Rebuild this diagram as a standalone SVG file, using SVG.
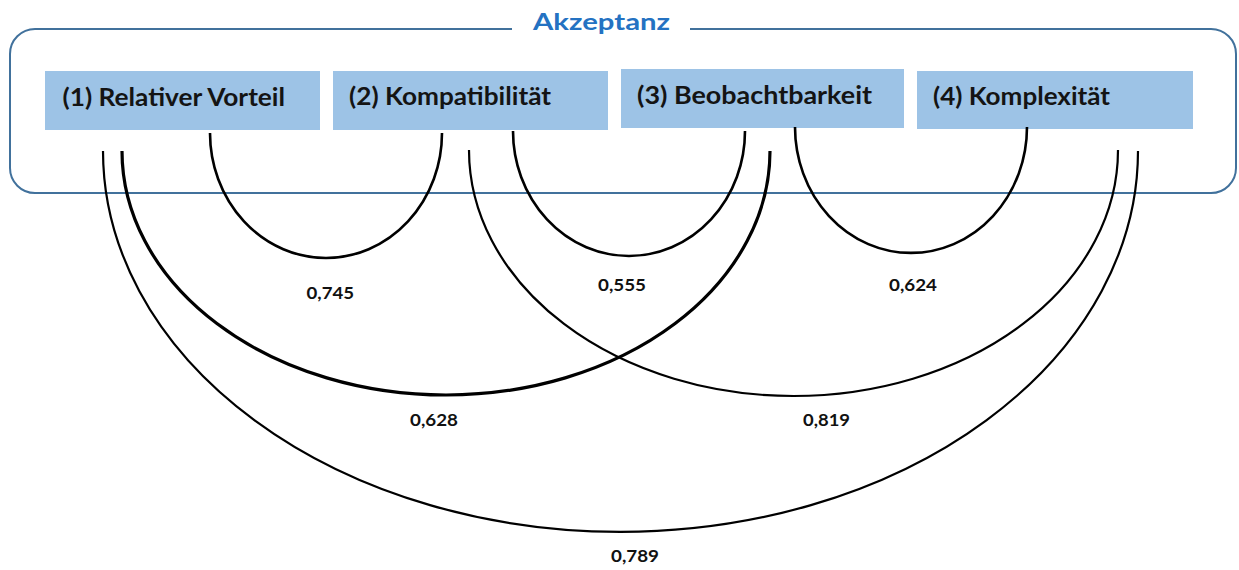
<svg xmlns="http://www.w3.org/2000/svg" width="1239" height="570" viewBox="0 0 1239 570">
<style>
.box{fill:#9dc3e6}
.lbl{font-family:Lato,"Liberation Sans",sans-serif;font-weight:bold;font-size:24px;fill:#141414}
.val{font-family:Lato,"Liberation Sans",sans-serif;font-weight:bold;font-size:17px;fill:#111}
.arc{fill:none;stroke:#000;stroke-width:2.2}
.sm{stroke-width:2.6}
.title{font-family:Lato,"Liberation Sans",sans-serif;font-weight:bold;font-size:23.5px;fill:#2472c2}
</style>
<rect width="1239" height="570" fill="#fff"/>
<g id="container">
<path d="M512 29 H35 A25 25 0 0 0 10 54 V168 A25 25 0 0 0 35 193 H1211 A25 25 0 0 0 1236 168 V54 A25 25 0 0 0 1211 29 H690" fill="none" stroke="#41719c" stroke-width="2"/>
<text class="title" x="533" y="29.5" textLength="137" lengthAdjust="spacingAndGlyphs">Akzeptanz</text>
</g>
<g id="n1"><rect class="box" x="45" y="71" width="275" height="59"/><text class="lbl" x="62.5" y="105.5" textLength="222.5" lengthAdjust="spacingAndGlyphs">(1) Relativer Vorteil</text></g>
<g id="n2"><rect class="box" x="333" y="71" width="275" height="59"/><text class="lbl" x="349" y="105" textLength="202" lengthAdjust="spacingAndGlyphs">(2) Kompatibilität</text></g>
<g id="n3"><rect class="box" x="621" y="69" width="283" height="59"/><text class="lbl" x="637" y="103.5" textLength="235" lengthAdjust="spacingAndGlyphs">(3) Beobachtbarkeit</text></g>
<g id="n4"><rect class="box" x="917" y="71" width="276" height="58"/><text class="lbl" x="933" y="104.5" textLength="177" lengthAdjust="spacingAndGlyphs">(4) Komplexität</text></g>
<g id="connectors">
<path class="arc sm" d="M210 133 A116 125 0 0 0 442 133"/>
<path class="arc sm" d="M513 131 A116 125 0 0 0 745 131"/>
<path class="arc sm" d="M795 127 A116 126 0 0 0 1027 127"/>
<path class="arc" style="stroke-width:3.2" d="M122 151 A324 244 0 0 0 770 151"/>
<path class="arc" d="M469 150 A324.5 246 0 0 0 1118 150"/>
<path class="arc" d="M103 151 A517.5 381 0 0 0 1138 151"/>
<text class="val" x="306.5" y="298.5" textLength="47.5" lengthAdjust="spacingAndGlyphs">0,745</text>
<text class="val" x="598" y="291" textLength="48" lengthAdjust="spacingAndGlyphs">0,555</text>
<text class="val" x="889" y="291" textLength="48" lengthAdjust="spacingAndGlyphs">0,624</text>
<text class="val" x="410" y="426" textLength="48" lengthAdjust="spacingAndGlyphs">0,628</text>
<text class="val" x="803" y="426" textLength="47" lengthAdjust="spacingAndGlyphs">0,819</text>
<text class="val" x="611" y="562" textLength="48" lengthAdjust="spacingAndGlyphs">0,789</text>
</g>
</svg>
